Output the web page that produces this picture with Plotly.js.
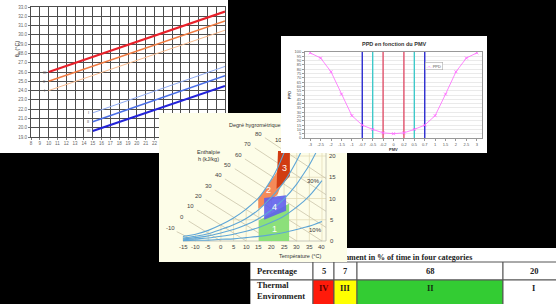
<!DOCTYPE html>
<html><head><meta charset="utf-8">
<script src="https://cdn.plot.ly/plotly-3.0.1.min.js"></script>
<style>
html,body{margin:0;padding:0;background:#000;width:556px;height:304px;overflow:hidden;}
.p{position:absolute;overflow:hidden;}
#c1{left:0;top:0;width:228px;height:153px;z-index:1;}
#tb{left:250px;top:248px;width:315px;height:70px;z-index:1;}
#ps{left:159px;top:113px;width:188px;height:149px;z-index:2;}
#pp{left:281px;top:36px;width:206px;height:117px;z-index:3;}
</style></head><body>
<div id="c1" class="p"></div>
<div id="tb" class="p"></div>
<div id="ps" class="p"></div>
<div id="pp" class="p"></div>
<script>
// ---------- Panel 1: operative temperature lines ----------
const warmX = [10, 30];
const warmIII = [26.0, 32.5];
const warmII = [25.0, 31.5];
const warmI = [24.0, 30.5];
const coolX = [15, 30];
const coolI = [21.6, 26.6];
const coolII = [20.65, 25.6];
const coolIII = [19.65, 24.5];
const classLabels = ['III', 'II', 'I'];
const p1XTicks = [8,9,10,11,12,13,14,15,16,17,18,19,20,21,22,23,24,25,26,27,28,29,30];
const p1YTicks = [19,20,21,22,23,24,25,26,27,28,29,30,31,32,33];

// ---------- Panel 2: PPD vs PMV ----------
const pmv = ['-3','-2.5','-2','-1.5','-1','-0.7','-0.5','-0.2','0','0.2','0.5','0.7','1','1.5','2','2.5','3'];
const ppd = [99, 93, 77, 51, 26, 15, 10, 6, 5, 6, 10, 15, 26, 51, 77, 93, 99];
const ppdTicks = [0,5,10,15,20,25,30,35,40,45,50,55,60,65,70,75,80,85,90,95,100];
const limitPairs = [['-0.7','0.7'], ['-0.5','0.5'], ['-0.2','0.2']];
const limitColors = ['#2b2bd0', '#3ec9c9', '#e0506a'];

// ---------- Panel 3: psychrometric chart ----------
const psT = [-15, -10, -5, 0, 5, 10, 15, 20, 22.5, 25, 27];
const rh100 = [1.1, 1.6, 2.5, 3.8, 5.4, 7.5, 10.2, 14.5, 17.3, 20.8, 24.0];
const rhT = [-15, -10, -5, 0, 5, 10, 15, 20, 25, 30, 32.5, 35, 40];
const rh70 = [0.7, 1.1, 1.7, 2.7, 3.8, 5.3, 7.4, 10.3, 13.9, 18.9, 22.0, 25.4, 33];
const rh50 = [0.5, 0.8, 1.2, 1.9, 2.7, 3.8, 5.3, 7.3, 9.9, 13.4, 15.6, 17.9, 23.6];
const rh30 = [0.3, 0.5, 0.7, 1.1, 1.6, 2.3, 3.2, 4.4, 5.9, 8.0, 9.2, 10.6, 14.2];
const rh10 = [0.1, 0.2, 0.2, 0.4, 0.5, 0.8, 1.1, 1.5, 2.0, 2.7, 3.1, 3.5, 4.6];
const enthalpy = ['-10','0','10','20','30','40','50','60','70','80'];
const hLabelT = [-20.1, -15.4, -12.2, -8.7, -5.1, -1.1, 2.8, 6.8, 10.7, 14.7];
const hLabelW = [3.1, 5.6, 8.2, 10.6, 12.9, 15.5, 17.9, 20.2, 22.8, 25.2];
const hStartT = [-17.5, -12.8, -9.5, -6, -2.4, 1.6, 5.5, 9.5, 13.4, 17.4];
const hStartW = [2.2, 4.7, 7.3, 9.7, 12.0, 14.6, 17.0, 19.3, 21.9, 24.3];
const hEndT = [-10, 0, 10, 20, 30, 40, 41.6, 41.6, 41.6, 41.6];
const hEndW = [0, 0, 0, 0, 0, 0, 3.2, 7.0, 10.9, 14.7];
const gridVT = [-15, -10, -5, 0, 5, 10, 15, 20, 25, 30, 35, 40];
const gridVTop = [1.1, 1.6, 2.5, 3.8, 5.4, 7.5, 10.2, 14.5, 20.8, 30, 30, 30];
const gridHW = [5, 10, 15, 20];
const gridHStart = [4, 14.8, 20.4, 24.9];
const psXTicks = [-15, -10, -5, 0, 5, 10, 15, 20, 25, 30, 35, 40];
const psYTicks = [0, 5, 10, 15, 20];
const zone1T = [15, 15, 27, 27], zone1W = [0, 4.8, 8.8, 0];
const zone2T = [14.8, 14.8, 17, 19, 21, 22.7, 24, 25, 22.5, 19, 14.8];
const zone2W = [7.6, 10.1, 11.8, 13.4, 15.2, 16.8, 17.8, 15.5, 11, 9.2, 7.6];
const zone3T = [22.6, 27.3, 27.3, 24.5, 22, 22.6];
const zone3W = [21.2, 21.2, 15.3, 13.5, 12.3, 21.2];
const zone4T = [17.1, 17.1, 25.8, 25.8, 17.1];
const zone4W = [5.0, 10.1, 10.75, 7.1, 5.0];
const zoneNames = ['1', '4', '2', '3'];
const zoneLabelT = [21.4, 21.1, 19, 25];
const zoneLabelW = [2.8, 7.9, 12, 17.2];
const rhNames = ['10%', '30%', '50%', '100%'];
const rhLabelT = [37.5, 36.5, 34.5, 24.5];
const rhLabelW = [2.6, 14.1, 21.5, 23.8];

// ---------- Panel 4: table ----------
const tableTitle = 'environment in % of time in four categories';
const tableHeader = ['Percentage', '5', '7', '68', '20'];
const tableRow = ['Thermal<br>Environment', 'IV', 'III', 'II', 'I'];
const tableColors = ['#ffffff', '#ff1a0a', '#ffff00', '#33cc33', '#ffffff'];
const tableTextColors = ['#222', '#5a0000', '#222', '#113311', '#222'];
const tableWidths = [63, 21, 23, 146, 62];

const cfg = {staticPlot: true, displayModeBar: false};
const SANS = 'Liberation Sans, Arial, sans-serif';

// ===== Panel 1 =====
(function(){
  const traces = [
    {x: warmX, y: warmI, mode: 'lines', line: {color: '#f7b98c', width: 1}},
    {x: warmX, y: warmII, mode: 'lines', line: {color: '#f07a40', width: 1.6}},
    {x: warmX, y: warmIII, mode: 'lines', line: {color: '#e8202a', width: 2.2}},
    {x: coolX, y: coolI, mode: 'lines', line: {color: '#8eaaf2', width: 1}},
    {x: coolX, y: coolII, mode: 'lines', line: {color: '#4a6ee6', width: 1.6}},
    {x: coolX, y: coolIII, mode: 'lines', line: {color: '#2222d8', width: 2.2}}
  ];
  const warmStarts = [warmIII[0], warmII[0], warmI[0]];
  const coolStarts = [coolIII[0], coolII[0], coolI[0]];
  const ann = [];
  classLabels.forEach((t, i) => {
    ann.push({x: warmX[0] - 0.5, y: warmStarts[i], text: t, showarrow: false, font: {size: 4, color: '#555', family: SANS}});
    ann.push({x: coolX[0] - 0.5, y: coolStarts[i], text: t, showarrow: false, font: {size: 4, color: '#555', family: SANS}});
  });
  ann.push({xref: 'paper', yref: 'paper', x: -0.098, y: 0.76, text: 'θ<sub>o</sub> (°C)', textangle: -90,
            showarrow: false, font: {size: 5.5, color: '#333', family: SANS}});
  Plotly.newPlot('c1', traces, {
    width: 228, height: 153, margin: {l: 31, r: 3, t: 7, b: 16},
    paper_bgcolor: '#ffffff', plot_bgcolor: '#ffffff', showlegend: false,
    xaxis: {range: [8, 30], tickvals: p1XTicks, showgrid: true, gridcolor: '#4d4d4d', gridwidth: 1,
            zeroline: false, showline: true, linecolor: '#4d4d4d', mirror: true,
            ticks: 'outside', ticklen: 2, tickcolor: '#777', tickfont: {size: 4.5, color: '#666', family: SANS}},
    yaxis: {range: [19, 33], tickvals: p1YTicks, tickformat: '.1f', showgrid: true, gridcolor: '#4d4d4d', gridwidth: 1,
            zeroline: false, showline: true, linecolor: '#4d4d4d', mirror: true,
            ticks: 'outside', ticklen: 2, tickcolor: '#777', tickfont: {size: 4.5, color: '#666', family: SANS}},
    annotations: ann
  }, cfg);
})();

// ===== PPD panel =====
(function(){
  const traces = [];
  limitPairs.forEach((pair, i) => {
    pair.forEach(v => traces.push({x: [v, v], y: [0, 100], mode: 'lines', line: {color: limitColors[i], width: 1.4}}));
  });
  traces.push({x: pmv, y: ppd, mode: 'lines+markers', line: {color: '#ff66ff', width: 0.8},
               marker: {symbol: 'x-thin', size: 3, color: '#ff66ff', line: {color: '#ff66ff', width: 0.8}}});
  Plotly.newPlot('pp', traces, {
    width: 206, height: 117, margin: {l: 24, r: 5, t: 16, b: 15},
    paper_bgcolor: '#ffffff', plot_bgcolor: '#ffffff', showlegend: false,
    xaxis: {type: 'category', categoryarray: pmv, range: [-0.5, 16.5], showgrid: false, zeroline: false,
            showline: true, linecolor: '#999', mirror: true, ticks: 'outside', ticklen: 2, tickcolor: '#999',
            tickfont: {size: 4, color: '#555', family: SANS}, tickangle: 0},
    yaxis: {range: [0, 100], tickvals: ppdTicks, showgrid: true, gridcolor: '#dcdcdc', gridwidth: 0.6,
            zeroline: false, showline: true, linecolor: '#999', mirror: true, ticks: 'outside', ticklen: 2,
            tickcolor: '#999', tickfont: {size: 4, color: '#555', family: SANS}},
    annotations: [
      {xref: 'paper', yref: 'paper', x: 0.5, y: 1, yanchor: 'bottom', yshift: 3, text: '<b>PPD en fonction du PMV</b>',
       showarrow: false, font: {size: 5.5, color: '#333', family: SANS}},
      {xref: 'paper', yref: 'paper', x: -0.115, y: 0.5, text: '<b>PPD</b>', textangle: -90,
       showarrow: false, font: {size: 4, color: '#333', family: SANS}},
      {xref: 'paper', yref: 'paper', x: 0.5, y: 0, yanchor: 'top', yshift: -7, text: '<b>PMV</b>',
       showarrow: false, font: {size: 4, color: '#333', family: SANS}},
      {xref: 'paper', yref: 'paper', x: 0.78, y: 0.884, text: "<span style='color:#ff66ff'>-×-</span> PPD",
       showarrow: false, bgcolor: '#ffffff', bordercolor: '#aaa', borderwidth: 0.6, borderpad: 1,
       font: {size: 4, color: '#555', family: SANS}}
    ]
  }, cfg);
})();

// ===== Psychrometric panel =====
(function(){
  const traces = [];
  const gridLine = {color: '#e3dcb8', width: 0.8};
  gridVT.forEach((t, i) => traces.push({x: [t, t], y: [0, gridVTop[i]], mode: 'lines', line: gridLine}));
  gridHW.forEach((w, i) => traces.push({x: [gridHStart[i], 41.6], y: [w, w], mode: 'lines', line: gridLine}));
  enthalpy.forEach((h, i) => traces.push({x: [hStartT[i], hEndT[i]], y: [hStartW[i], hEndW[i]], mode: 'lines',
                                           line: {color: '#cac4aa', width: 0.8}}));
  traces.push({x: [-15, 41.6], y: [0, 0], mode: 'lines', line: {color: '#b9b9b0', width: 0.8}});
  traces.push({x: [41.6, 41.6], y: [0, 30], mode: 'lines', line: {color: '#b9b9b0', width: 0.8}});
  traces.push({x: zone1T, y: zone1W, mode: 'lines', fill: 'toself', fillcolor: '#8ce07a', line: {width: 0}});
  traces.push({x: zone2T, y: zone2W, mode: 'lines', fill: 'toself', fillcolor: '#f58a58', line: {width: 0}});
  traces.push({x: zone3T, y: zone3W, mode: 'lines', fill: 'toself', fillcolor: '#d13c12', line: {width: 0}});
  traces.push({x: zone4T, y: zone4W, mode: 'lines', fill: 'toself', fillcolor: 'rgba(92,92,238,0.88)', line: {width: 0}});
  const curveLine = {color: '#5fa6d6', width: 1.1, shape: 'spline'};
  traces.push({x: psT, y: rh100, mode: 'lines', line: curveLine});
  [rh70, rh50, rh30, rh10].forEach(c => traces.push({x: rhT, y: c, mode: 'lines', line: curveLine}));
  traces.push({x: [23.8, 25.5], y: [27.3, 27.3], mode: 'lines', line: {color: '#666', width: 0.6}});

  const ann = [];
  const f = (s, c) => ({size: s, color: c || '#444', family: SANS});
  enthalpy.forEach((h, i) => ann.push({x: hLabelT[i], y: hLabelW[i], text: h, showarrow: false, font: f(6)}));
  psXTicks.forEach(t => ann.push({x: t, y: 0, yshift: -6, text: String(t), showarrow: false, font: f(6)}));
  psYTicks.forEach(w => ann.push({x: 41.6, y: w, xshift: 6, xanchor: 'center', text: String(w), showarrow: false, font: f(6)}));
  zoneNames.forEach((z, i) => ann.push({x: zoneLabelT[i], y: zoneLabelW[i], text: z, showarrow: false, font: f(9, '#ffffff')}));
  rhNames.forEach((r, i) => ann.push({x: rhLabelT[i], y: rhLabelW[i], text: r, showarrow: false, font: f(6, '#333')}));
  ann.push({x: -5.1, y: 20.2, text: 'Enthalpie<br>h (kJ/kg)', showarrow: false, font: f(5.5, '#333')});
  ann.push({x: 13.5, y: 27.3, text: 'Degré hygrométrique', showarrow: false, font: f(5.5, '#333')});
  ann.push({x: 31.3, y: -3.5, text: 'Température (°C)', showarrow: false, font: f(5.5, '#333')});

  Plotly.newPlot('ps', traces, {
    width: 188, height: 149, margin: {l: 0, r: 0, t: 0, b: 0},
    paper_bgcolor: '#fdfde8', plot_bgcolor: '#fdfde8', showlegend: false,
    xaxis: {range: [-24.5, 49.9], visible: false},
    yaxis: {range: [-4.94, 30.12], visible: false},
    annotations: ann
  }, cfg);
})();

// ===== Table panel (cells as shapes on a 315 x 70 px paper) =====
(function(){
  const serif = 'Liberation Serif, Times New Roman, serif';
  const W = 315, H = 70;
  const rowTop = [14, 32], rowBottom = [32, 64];
  const px = v => v / W, py = v => 1 - v / H;
  const edges = [0];
  tableWidths.forEach(w => edges.push(edges[edges.length - 1] + w));
  const shapes = [], ann = [];
  tableHeader.forEach((v, i) => {
    const left = i === 0;
    shapes.push({type: 'rect', xref: 'paper', yref: 'paper', x0: px(edges[i]), x1: px(edges[i + 1]),
                 y0: py(rowBottom[0]), y1: py(rowTop[0]), fillcolor: '#ffffff', line: {color: '#555', width: 1}});
    ann.push({xref: 'paper', yref: 'paper', x: left ? px(edges[i] + 5) : px((edges[i] + edges[i + 1]) / 2),
              xanchor: left ? 'left' : 'center', y: py(23), yanchor: 'middle', showarrow: false,
              text: '<b>' + v + '</b>', font: {family: serif, size: 8.5, color: '#222'}});
  });
  tableRow.forEach((v, i) => {
    const left = i === 0;
    shapes.push({type: 'rect', xref: 'paper', yref: 'paper', x0: px(edges[i]), x1: px(edges[i + 1]),
                 y0: py(rowBottom[1]), y1: py(rowTop[1]), fillcolor: tableColors[i], line: {color: '#555', width: 1}});
    ann.push({xref: 'paper', yref: 'paper', x: left ? px(edges[i] + 5) : px((edges[i] + edges[i + 1]) / 2),
              xanchor: left ? 'left' : 'center', y: left ? py(42.5) : py(40), yanchor: 'middle', showarrow: false,
              align: 'left', text: '<b>' + v + '</b>',
              font: {family: serif, size: 8.5, color: tableTextColors[i]}});
  });
  ann.push({xref: 'paper', yref: 'paper', x: px(71), xanchor: 'left', y: py(9), yanchor: 'middle',
            text: '<b>' + tableTitle + '</b>', showarrow: false, font: {family: serif, size: 8, color: '#222'}});
  Plotly.newPlot('tb', [], {
    width: W, height: H, margin: {l: 0, r: 0, t: 0, b: 0},
    paper_bgcolor: '#ffffff', plot_bgcolor: '#ffffff',
    xaxis: {visible: false}, yaxis: {visible: false},
    shapes: shapes, annotations: ann
  }, cfg);
})();
</script>
</body></html>
